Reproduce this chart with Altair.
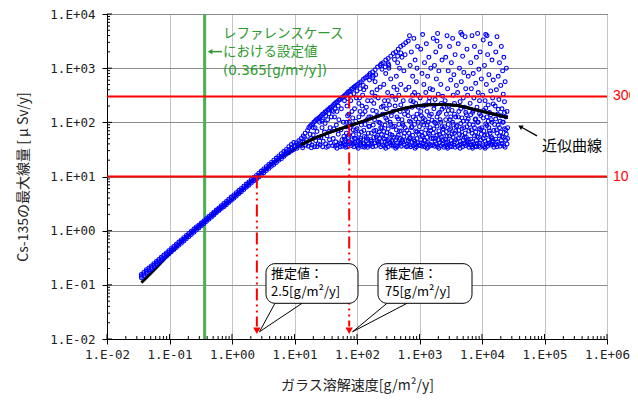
import altair as alt
import pandas as pd

# ---------------- data (log10 values) ----------------
band_rate_log = [-1.45, -1.41, -1.37, -1.33, -1.29, -1.25, -1.21, -1.17, -1.13, -1.09, -1.05, -1.01,
                 -0.97, -0.93, -0.89, -0.85, -0.81, -0.77, -0.73, -0.69, -0.65, -0.61, -0.57, -0.53,
                 -0.49, -0.45, -0.41, -0.37, -0.33, -0.29, -0.25, -0.21, -0.17, -0.13, -0.09, -0.05,
                 -0.01, 0.03, 0.07, 0.11, 0.15, 0.19, 0.23, 0.27, 0.31, 0.35, 0.39, 0.43, 0.47, 0.51,
                 0.55, 0.59, 0.63, 0.67, 0.71, 0.75, 0.79, 0.83, 0.87, 0.91, 0.95, 0.99]
band_dose_hi = [-0.81, -0.77, -0.72, -0.69, -0.65, -0.61, -0.57, -0.53, -0.49, -0.45, -0.41, -0.37,
                -0.33, -0.29, -0.25, -0.21, -0.17, -0.13, -0.09, -0.05, -0.01, 0.03, 0.07, 0.10,
                0.14, 0.18, 0.22, 0.26, 0.30, 0.34, 0.38, 0.42, 0.46, 0.50, 0.54, 0.58,
                0.62, 0.66, 0.70, 0.74, 0.78, 0.82, 0.86, 0.90, 0.94, 0.98, 1.02, 1.06, 1.10, 1.14,
                1.18, 1.22, 1.26, 1.30, 1.34, 1.38, 1.42, 1.46, 1.50, 1.55, 1.59, 1.63]
band_dose_mid = [-0.84, -0.80, -0.75, -0.72, -0.68, -0.64, -0.60, -0.56, -0.52, -0.48, -0.44, -0.40,
                 -0.36, -0.32, -0.28, -0.24, -0.20, -0.16, -0.12, -0.08, -0.04, 0.00, 0.04, 0.075,
                 0.115, 0.155, 0.195, 0.235, 0.275, 0.315, 0.355, 0.395, 0.435, 0.47, 0.51, 0.55,
                 0.59, 0.63, 0.67, 0.71, 0.75, 0.79, 0.83, 0.87, 0.91, 0.95, 0.985, 1.025, 1.065, 1.105,
                 1.145, 1.185, 1.225, 1.26, 1.30, 1.34, 1.375, 1.415, 1.455, 1.495, 1.53, 1.565]
band_dose_lo = [-0.87, -0.83, -0.78, -0.75, -0.71, -0.67, -0.63, -0.59, -0.55, -0.51, -0.47, -0.43,
                -0.39, -0.35, -0.31, -0.27, -0.23, -0.19, -0.15, -0.11, -0.07, -0.03, 0.01, 0.05,
                0.09, 0.13, 0.17, 0.21, 0.25, 0.29, 0.33, 0.37, 0.41, 0.44, 0.48, 0.52,
                0.56, 0.60, 0.64, 0.68, 0.72, 0.76, 0.80, 0.84, 0.88, 0.92, 0.95, 0.99, 1.03, 1.07,
                1.11, 1.15, 1.19, 1.22, 1.26, 1.30, 1.33, 1.37, 1.41, 1.44, 1.47, 1.50]

fan_points = [
    (1.01,1.55),(1.03,1.62),(1.05,1.58),(1.07,1.66),(1.09,1.60),(1.11,1.70),(1.12,1.57),(1.14,1.75),(1.15,1.63),(1.17,1.80),(1.18,1.58),(1.19,1.68),(1.04,1.52),(1.13,1.53),(1.16,1.72),(1.10,1.65),
    (1.21,1.85),(1.23,1.90),(1.25,1.93),(1.27,1.95),(1.29,1.97),(1.31,2.00),(1.33,2.02),(1.35,2.05),(1.37,2.06),(1.39,2.08),
    (1.22,1.56),(1.24,1.62),(1.26,1.70),(1.28,1.58),(1.30,1.77),(1.32,1.55),(1.34,1.66),(1.36,1.83),(1.38,1.60),(1.39,1.72),(1.25,1.78),(1.33,1.90),(1.27,1.53),(1.36,1.55),
    (1.41,2.10),(1.43,2.12),(1.45,2.15),(1.47,2.16),(1.49,2.19),(1.51,2.20),(1.53,2.23),(1.55,2.24),(1.57,2.27),(1.59,2.28),
    (1.41,1.58),(1.42,1.72),(1.44,1.90),(1.45,1.55),(1.46,1.65),(1.48,1.82),(1.49,1.98),(1.50,1.60),(1.52,1.75),(1.53,2.05),(1.54,1.56),(1.56,1.68),(1.57,1.90),(1.58,1.62),(1.59,2.10),(1.44,2.02),(1.51,1.54),(1.55,1.83),
    (1.61,2.30),(1.63,2.33),(1.65,2.35),(1.67,2.37),(1.69,2.38),(1.71,2.41),(1.73,2.42),(1.75,2.45),(1.77,2.46),(1.79,2.48),
    (1.61,1.57),(1.62,1.70),(1.63,1.88),(1.64,2.10),(1.65,1.56),(1.66,1.64),(1.67,1.95),(1.68,2.20),(1.69,1.58),(1.70,1.78),(1.71,2.05),(1.72,1.62),(1.73,1.55),(1.74,1.86),(1.75,2.25),(1.76,1.68),(1.77,1.56),(1.78,2.00),(1.79,1.74),(1.62,2.20),(1.68,1.52),(1.74,1.60),(1.78,1.60),
    (1.81,2.50),(1.83,2.52),(1.85,2.55),(1.87,2.57),(1.89,2.58),(1.91,2.61),(1.93,2.62),(1.95,2.65),(1.97,2.66),(1.99,2.68),
    (1.81,1.58),(1.82,1.66),(1.83,1.80),(1.84,2.00),(1.84,2.30),(1.85,1.55),(1.86,1.72),(1.87,2.15),(1.88,1.60),(1.89,1.90),(1.90,2.40),(1.91,1.57),(1.92,1.68),(1.93,2.08),(1.94,1.77),(1.95,1.55),(1.96,2.25),(1.97,1.62),(1.98,1.85),(1.99,2.45),(1.82,1.54),(1.88,2.00),(1.94,1.60),(1.98,1.70),(1.86,1.64),(1.92,1.95),
    (2.01,2.70),(2.04,2.73),(2.07,2.75),(2.10,2.79),(2.13,2.82),(2.16,2.84),(2.19,2.87),
    (2.01,1.56),(2.02,1.65),(2.03,1.78),(2.03,2.10),(2.04,2.45),(2.05,1.58),(2.06,1.70),(2.07,1.95),(2.08,2.30),(2.09,1.55),(2.10,1.62),(2.11,1.85),(2.11,2.60),(2.12,1.74),(2.13,2.20),(2.14,1.57),(2.15,1.66),(2.16,2.05),(2.17,2.40),(2.18,1.60),(2.18,1.80),(2.19,1.92),(2.05,2.20),(2.09,2.50),(2.14,2.65),(2.02,1.52),(2.12,1.54),(2.17,1.54),(2.06,1.62),(2.15,1.72),
    (2.21,2.90),(2.25,2.93),(2.29,2.97),(2.33,3.02),(2.37,3.05),(2.39,3.08),
    (2.21,1.57),(2.22,1.68),(2.22,2.10),(2.23,1.80),(2.24,2.55),(2.24,1.60),(2.25,1.55),(2.26,1.95),(2.27,1.72),(2.27,2.35),(2.28,1.62),(2.29,2.75),(2.30,1.85),(2.30,1.56),(2.31,2.20),(2.32,1.66),(2.33,1.76),(2.34,2.45),(2.35,1.59),(2.35,2.00),(2.36,1.70),(2.37,2.65),(2.38,1.55),(2.38,1.90),(2.39,2.28),(2.23,2.40),(2.26,2.85),(2.32,2.60),(2.36,1.82),(2.28,2.05),(2.34,1.63),
    (2.42,3.10),(2.46,3.15),(2.50,3.18),(2.54,3.22),(2.58,3.27),
    (2.41,1.58),(2.41,2.15),(2.42,1.70),(2.43,1.83),(2.43,2.70),(2.44,1.56),(2.44,2.40),(2.45,1.64),(2.45,1.95),(2.46,2.90),(2.47,1.75),(2.47,2.25),(2.48,1.60),(2.48,2.05),(2.49,2.55),(2.50,1.55),(2.50,1.88),(2.51,3.00),(2.52,1.68),(2.52,2.32),(2.53,1.78),(2.54,2.80),(2.55,1.58),(2.55,2.12),(2.56,1.66),(2.56,2.48),(2.57,1.92),(2.58,1.56),(2.59,2.65),(2.59,1.72),(2.46,1.52),(2.53,2.00),(2.57,1.62),(2.49,1.66),(2.51,3.05),
    (2.62,3.30),(2.66,3.35),(2.70,3.40),(2.74,3.43),(2.78,3.47),
    (2.61,1.57),(2.61,2.30),(2.62,1.68),(2.63,1.86),(2.63,2.85),(2.64,1.55),(2.64,2.10),(2.65,1.62),(2.65,3.10),(2.66,1.76),(2.67,2.50),(2.67,1.96),(2.68,1.59),(2.69,2.20),(2.69,1.70),(2.70,2.70),(2.71,1.56),(2.71,1.84),(2.72,3.20),(2.72,2.05),(2.73,1.64),(2.74,2.40),(2.75,1.74),(2.75,2.95),(2.76,1.58),(2.76,2.15),(2.77,1.90),(2.78,2.60),(2.79,1.66),(2.79,1.55),(2.64,2.60),(2.68,3.00),(2.73,1.98),(2.77,3.25),(2.62,1.52),(2.70,1.62),
    (2.81,1.56),(2.81,2.20),(2.82,1.66),(2.82,3.50),(2.83,1.80),(2.83,2.65),(2.84,1.58),(2.84,2.02),(2.85,3.05),(2.85,1.72),(2.86,2.40),(2.86,1.55),(2.87,1.90),(2.87,3.30),(2.88,1.63),(2.88,2.28),(2.89,2.85),(2.89,1.76),(2.90,1.57),(2.90,2.10),(2.91,3.55),(2.91,1.68),(2.92,2.55),(2.92,1.96),(2.93,1.60),(2.93,3.15),(2.94,1.84),(2.94,2.35),(2.95,1.55),(2.95,2.75),(2.96,1.70),(2.96,2.15),(2.97,3.40),(2.97,1.62),(2.98,2.00),(2.98,2.50),(2.99,1.78),(2.99,1.58),(2.84,3.60),(2.89,2.50),(2.93,1.52),(2.96,3.00),
    (3.01,1.57),(3.01,2.45),(3.02,1.68),(3.02,3.35),(3.03,1.82),(3.03,2.12),(3.04,1.56),(3.04,2.90),(3.05,1.74),(3.05,3.62),(3.06,1.60),(3.06,2.30),(3.07,1.95),(3.07,2.70),(3.08,1.55),(3.08,3.10),(3.09,1.66),(3.09,2.05),(3.10,1.86),(3.10,2.55),(3.11,1.58),(3.11,3.45),(3.12,1.72),(3.12,2.20),(3.13,1.63),(3.13,2.85),(3.14,2.00),(3.14,1.54),(3.15,2.38),(3.15,3.20),(3.16,1.78),(3.16,1.60),(3.17,2.62),(3.17,1.90),(3.18,1.57),(3.18,3.00),(3.19,2.15),(3.19,1.70),(3.05,2.00),(3.12,1.52),(3.16,2.45),(3.03,1.62),
    (3.21,1.58),(3.21,2.60),(3.22,1.70),(3.22,3.55),(3.23,1.88),(3.23,2.25),(3.24,1.56),(3.24,3.05),(3.25,1.65),(3.25,2.42),(3.26,1.98),(3.26,3.30),(3.27,1.60),(3.27,2.80),(3.28,1.76),(3.28,2.10),(3.29,1.55),(3.29,3.64),(3.30,1.68),(3.30,2.52),(3.31,1.84),(3.31,2.95),(3.32,1.62),(3.32,2.18),(3.33,2.05),(3.33,3.40),(3.34,1.57),(3.34,2.70),(3.35,1.73),(3.35,2.35),(3.36,1.92),(3.36,3.15),(3.37,1.60),(3.37,2.48),(3.38,1.66),(3.38,1.80),(3.39,2.28),(3.39,1.54),(3.24,2.00),(3.31,1.52),(3.36,1.68),(3.28,3.50),
    (3.41,1.57),(3.41,2.40),(3.42,1.69),(3.42,3.20),(3.43,1.83),(3.43,2.15),(3.44,1.55),(3.44,3.60),(3.45,1.64),(3.45,2.62),(3.46,1.96),(3.46,2.95),(3.47,1.59),(3.47,2.30),(3.48,1.75),(3.48,3.40),(3.49,1.56),(3.49,2.05),(3.50,1.88),(3.50,2.78),(3.51,1.66),(3.51,3.10),(3.52,1.61),(3.52,2.22),(3.53,2.00),(3.53,3.55),(3.54,1.72),(3.54,2.50),(3.55,1.58),(3.55,2.88),(3.56,1.80),(3.56,2.35),(3.57,1.54),(3.57,3.25),(3.58,1.68),(3.58,2.10),(3.59,1.92),(3.59,2.68),(3.45,1.52),(3.51,1.55),(3.56,1.64),(3.43,1.62),
    (3.61,1.56),(3.61,2.55),(3.62,1.70),(3.62,3.45),(3.63,1.85),(3.63,2.20),(3.64,1.58),(3.64,3.00),(3.65,1.65),(3.65,2.38),(3.66,1.98),(3.66,3.66),(3.67,1.60),(3.67,2.75),(3.68,1.76),(3.68,2.08),(3.69,1.55),(3.69,3.22),(3.70,1.67),(3.70,2.45),(3.71,1.90),(3.71,2.92),(3.72,1.62),(3.72,2.28),(3.73,1.80),(3.73,3.58),(3.74,1.57),(3.74,2.62),(3.75,1.72),(3.75,2.14),(3.76,2.02),(3.76,3.35),(3.77,1.59),(3.77,2.50),(3.78,1.68),(3.78,2.85),(3.79,1.84),(3.79,1.54),(3.65,1.52),(3.71,1.60),(3.76,1.64),(3.68,3.62),
    (3.81,1.58),(3.81,2.35),(3.82,1.69),(3.82,3.10),(3.83,1.86),(3.83,2.62),(3.84,1.55),(3.84,3.60),(3.85,1.64),(3.85,2.18),(3.86,1.95),(3.86,2.90),(3.87,1.60),(3.87,2.45),(3.88,1.75),(3.88,3.40),(3.89,1.56),(3.89,2.05),(3.90,1.82),(3.90,2.72),(3.91,1.66),(3.91,3.20),(3.92,1.61),(3.92,2.28),(3.93,2.00),(3.93,3.64),(3.94,1.72),(3.94,2.55),(3.95,1.57),(3.95,2.98),(3.96,1.88),(3.96,2.40),(3.97,1.54),(3.97,3.30),(3.98,1.67),(3.98,2.12),(3.99,1.78),(3.99,2.80),(3.85,1.52),(3.91,1.55),(3.96,1.62),(3.83,1.58),
    (4.01,1.57),(4.01,2.50),(4.02,1.70),(4.02,3.52),(4.03,1.84),(4.03,2.22),(4.04,1.55),(4.04,3.05),(4.05,1.65),(4.05,2.40),(4.06,1.97),(4.06,3.62),(4.07,1.60),(4.07,2.70),(4.08,1.77),(4.08,2.10),(4.09,1.56),(4.09,3.25),(4.10,1.68),(4.10,2.32),(4.11,1.90),(4.11,2.88),(4.12,1.62),(4.12,2.18),(4.13,1.80),(4.13,3.45),(4.14,1.58),(4.14,2.58),(4.15,1.73),(4.15,2.05),(4.16,2.00),(4.16,3.15),(4.17,1.59),(4.17,2.45),(4.18,1.66),(4.18,2.78),(4.19,1.85),(4.19,1.54),(4.05,1.52),(4.11,1.60),(4.16,1.64),(4.08,3.60),
    (4.21,1.58),(4.21,2.30),(4.22,1.69),(4.22,3.30),(4.23,1.86),(4.23,2.60),(4.24,1.55),(4.24,3.58),(4.25,1.64),(4.25,2.15),(4.26,1.95),(4.26,2.85),(4.27,1.60),(4.27,2.42),(4.28,1.75),(4.28,3.10),(4.29,1.56),(4.29,2.02),(4.30,1.82),(4.30,2.68),(4.31,1.66),(4.31,3.40),(4.32,1.61),(4.32,2.25),(4.33,2.00),(4.33,2.95),(4.34,1.72),(4.34,2.52),(4.35,1.57),(4.35,3.20),(4.36,1.88),(4.36,2.38),(4.37,1.54),(4.37,2.75),(4.38,1.67),(4.38,2.10),(4.39,1.78),(4.39,3.00),(4.40,1.60),(4.40,2.20),(4.41,1.70),(4.41,1.90),
]

fan_dense_points = [
    (1.80,1.69),(1.83,1.92),(1.85,2.12),(1.87,1.76),(1.90,1.63),(1.92,2.20),(1.94,1.86),(1.96,1.70),(1.98,2.02),(1.99,1.59),
    (2.00,1.88),(2.03,2.35),(2.05,1.67),(2.07,1.82),(2.09,2.15),(2.11,1.60),(2.13,1.96),(2.15,2.28),(2.17,1.69),(2.19,2.10),
    (2.20,1.93),(2.23,1.65),(2.25,2.22),(2.27,1.84),(2.29,2.48),(2.31,1.73),(2.33,2.12),(2.35,1.64),(2.37,1.99),(2.39,1.78),
    (2.40,1.90),(2.42,2.30),(2.44,1.69),(2.46,2.08),(2.48,1.81),(2.50,2.40),(2.52,1.62),(2.54,1.96),(2.56,1.76),(2.58,2.20),
    (2.60,1.93),(2.62,2.42),(2.64,1.72),(2.66,2.06),(2.68,1.84),(2.70,2.32),(2.72,1.67),(2.74,1.94),(2.76,1.80),(2.78,2.24),
    (2.80,1.85),(2.82,2.12),(2.84,1.70),(2.86,2.00),(2.88,1.92),(2.90,2.38),(2.92,1.65),(2.94,2.06),(2.96,1.82),(2.98,2.28),
    (3.00,1.92),(3.02,2.20),(3.04,1.76),(3.06,2.08),(3.08,1.67),(3.10,2.32),(3.12,1.95),(3.14,1.80),(3.16,2.12),(3.18,1.85),
    (3.20,2.04),(3.22,1.80),(3.24,2.32),(3.26,1.70),(3.28,1.93),(3.30,2.16),(3.32,1.77),(3.34,2.00),(3.36,2.24),(3.38,1.88),
    (3.40,1.92),(3.42,2.05),(3.44,1.74),(3.46,2.22),(3.48,1.86),(3.50,2.10),(3.52,1.78),(3.54,1.96),(3.56,2.15),(3.58,1.84),
    (3.60,1.94),(3.62,2.10),(3.64,1.78),(3.66,2.25),(3.68,1.88),(3.70,2.02),(3.72,1.72),(3.74,2.18),(3.76,1.92),(3.78,2.06),
    (3.80,1.96),(3.82,2.14),(3.84,1.80),(3.86,2.22),(3.88,1.90),(3.90,2.06),(3.92,1.74),(3.94,2.00),(3.96,2.16),(3.98,1.86),
    (4.00,1.90),(4.02,2.08),(4.04,1.76),(4.06,2.26),(4.08,1.94),(4.10,2.02),(4.12,1.84),(4.14,2.14),(4.16,1.70),(4.18,2.34),
    (4.20,1.96),(4.22,2.06),(4.24,1.80),(4.26,2.24),(4.28,1.90),(4.30,2.12),(4.32,1.74),(4.34,2.00),(4.36,2.18),(4.38,1.86),
]

fan_edge_points = [
    (1.30,1.90),(1.40,2.00),(1.50,2.12),(1.60,2.22),(1.70,2.30),(1.80,2.40),(1.90,2.50),(2.00,2.58),
    (2.10,2.68),(2.20,2.78),(2.30,2.88),(2.40,2.98),(2.50,3.08),(2.60,3.16),(2.70,3.28),(1.45,2.05),
    (1.65,2.25),(1.85,2.44),(2.05,2.62),(2.25,2.82),(2.45,3.02),(2.65,3.22),(1.55,2.16),(1.95,2.53),
]

curve_rate_log = [-1.45, -1.2, -0.9, -0.5, 0.0, 0.4, 0.8, 1.1, 1.37, 1.6, 1.84, 2.2, 2.63, 3.0, 3.32, 3.6, 3.9, 4.2, 4.41]
curve_dose_log = [-0.96, -0.67, -0.31, 0.11, 0.58, 1.0, 1.36, 1.58, 1.73, 1.83, 1.92, 2.06, 2.22, 2.31, 2.33, 2.31, 2.23, 2.15, 2.09]

x_decades = [0.01, 0.1, 1, 10, 100, 1000, 10000, 100000, 1000000]
y_decades = [0.01, 0.1, 1, 10, 100, 1000, 10000]

reference_rate = 0.365
limit_doses = [300, 10]
limit_labels = ["300", "10"]
estimate_rates = [2.5, 75]
estimate_doses = [10, 300]
estimate_texts = ["2.5[g/m²/y]", "75[g/m²/y]"]
ref_lines = ["レファレンスケース", "における設定値"]
ref_value_line = "(0.365[g/m²/y])"
fit_label = "近似曲線"

# ---------------- frames ----------------
scatter_df = pd.DataFrame(
    [(10 ** u, 10 ** v) for u, v in zip(band_rate_log, band_dose_hi)]
    + [(10 ** u, 10 ** v) for u, v in zip(band_rate_log, band_dose_mid)]
    + [(10 ** u, 10 ** v) for u, v in zip(band_rate_log, band_dose_lo)]
    + [(10 ** u, 10 ** v) for u, v in fan_points]
    + [(10 ** u, 10 ** v) for u, v in fan_dense_points]
    + [(10 ** u, 10 ** v) for u, v in fan_edge_points],
    columns=["x", "y"],
)
curve_df = pd.DataFrame({"x": [10 ** u for u in curve_rate_log], "y": [10 ** v for v in curve_dose_log]})
curve_top_df = curve_df[curve_df["x"] >= 10 ** 1.1]

xs = alt.Scale(type="log", domain=[0.01, 1000000], nice=False)
ys = alt.Scale(type="log", domain=[0.01, 10000], nice=False)

JP = "Noto Sans CJK JP"
MONO = "DejaVu Sans Mono"
label_expr = ("'1.E' + (datum.value < 1 ? '-' : '+') + "
              "(abs(round(log(datum.value)/LN10)) < 10 ? '0' : '') + abs(round(log(datum.value)/LN10))")

x_axis = alt.Axis(values=x_decades, labelExpr=label_expr, grid=True, gridColor="#c4c4c4", gridWidth=1,
                  tickSize=5, tickColor="black", domainColor="black", labelFont=MONO, labelFontSize=12.5,
                  labelColor="#222222", labelPadding=4, labelFlush=False, labelOverlap=False, labelBound=False,
                  title="ガラス溶解速度[g/m²/y]", titleFont=JP, titleFontSize=14, titleFontWeight="normal",
                  titleColor="#222222", titlePadding=18)
y_axis = alt.Axis(values=y_decades, labelExpr=label_expr, grid=True, gridColor="#8c8c8c", gridWidth=1,
                  tickSize=5, tickColor="black", domainColor="black", labelFont=MONO, labelFontSize=12.5,
                  labelColor="#222222", labelPadding=7, labelFlush=False, labelOverlap=False, labelBound=False,
                  title="Cs-135の最大線量 [ μ Sv/y]", titleFont=JP, titleFontSize=14, titleFontWeight="normal",
                  titleColor="#222222", titlePadding=19)


def X(f="x"):
    return alt.X(f"{f}:Q", scale=xs, axis=x_axis)


def Y(f="y"):
    return alt.Y(f"{f}:Q", scale=ys, axis=y_axis)


PLOT_H = 325

# inner ticks
x_minor = [m * d for d in x_decades[:-1] for m in range(2, 10)]
y_minor = [m * d for d in y_decades[:-1] for m in range(2, 10)]
tick_layers = [
    alt.Chart(pd.DataFrame({"x": x_decades})).mark_rule(color="black").encode(x=X(), y=alt.value(PLOT_H), y2=alt.value(PLOT_H - 5)),
    alt.Chart(pd.DataFrame({"x": x_minor})).mark_rule(color="black").encode(x=X(), y=alt.value(PLOT_H), y2=alt.value(PLOT_H - 3)),
    alt.Chart(pd.DataFrame({"y": y_decades})).mark_rule(color="black").encode(y=Y(), x=alt.value(0), x2=alt.value(5)),
    alt.Chart(pd.DataFrame({"y": y_minor})).mark_rule(color="black").encode(y=Y(), x=alt.value(0), x2=alt.value(3)),
]

green_line = alt.Chart(pd.DataFrame({"x": [reference_rate]})).mark_rule(color="#4caf50", strokeWidth=3).encode(x=X())

scatter = alt.Chart(scatter_df).mark_point(shape="circle", filled=False, color="#0000ff", size=15,
                                           strokeWidth=1.1, opacity=1).encode(x=X(), y=Y())

curve_under = alt.Chart(curve_df).mark_line(color="black", strokeWidth=3, interpolate="monotone").encode(x=X(), y=Y())
curve_over = alt.Chart(curve_top_df).mark_line(color="black", strokeWidth=3, interpolate="monotone").encode(x=X(), y=Y())

red_h = alt.Chart(pd.DataFrame({"y": limit_doses})).mark_rule(color="#ff0000", strokeWidth=2).encode(y=Y())
red_lbl = alt.Chart(pd.DataFrame({"x": [1.25e6, 1.25e6], "y": limit_doses, "t": limit_labels})).mark_text(
    align="left", baseline="middle", font="Liberation Sans", fontSize=14, color="#ff0000").encode(x=X(), y=Y(), text="t:N")

red_v = alt.Chart(pd.DataFrame({"x": estimate_rates, "y": estimate_doses, "y2": [0.017, 0.017]})).mark_rule(
    color="#ff0000", strokeWidth=2, strokeDash=[12, 4, 2, 4, 2, 4]).encode(x=X(), y=Y(), y2="y2:Q")
red_arrow = alt.Chart(pd.DataFrame({"x": estimate_rates, "y": [0.0142, 0.0142]})).mark_point(
    shape="triangle-down", filled=True, color="#ff0000", size=55, opacity=1).encode(x=X(), y=Y())

# call-out boxes
box_df = pd.DataFrame({"x": [3.5, 217], "x2": [103.7, 6920], "y": [0.246, 0.246], "y2": [0.0456, 0.0456]})
boxes = alt.Chart(box_df).mark_rect(fill="white", stroke="black", strokeWidth=1, cornerRadius=9).encode(
    x=X(), x2="x2:Q", y=Y(), y2="y2:Q")
tail_df = pd.DataFrame({
    "x": [4.87, 2.75, 13.2, 2.75, 302, 85, 631, 85],
    "y": [0.0456, 0.0136, 0.0456, 0.0136, 0.0456, 0.0136, 0.0456, 0.0136],
    "g": ["a", "a", "b", "b", "c", "c", "d", "d"],
    "o": [0, 1, 0, 1, 0, 1, 0, 1],
})
tails = alt.Chart(tail_df).mark_line(color="black", strokeWidth=1).encode(x=X(), y=Y(), detail="g:N", order="o:Q")
box_text = alt.Chart(pd.DataFrame({
    "x": [4.21, 4.21, 281, 281],
    "y": [0.161, 0.0724, 0.161, 0.0724],
    "t": ["推定値：", estimate_texts[0], "推定値：", estimate_texts[1]],
})).mark_text(align="left", baseline="middle", font=JP, fontSize=13, color="black").encode(x=X(), y=Y(), text="t:N")

# reference case annotation
ref_text = alt.Chart(pd.DataFrame({"x": [0.718] * 2, "y": [4300, 1960], "t": ref_lines})).mark_text(
    align="left", baseline="middle", font=JP, fontSize=13.5, color="#2e9a2e").encode(x=X(), y=Y(), text="t:N")
ref_value = alt.Chart(pd.DataFrame({"x": [0.718], "y": [880], "t": [ref_value_line]})).mark_text(
    align="left", baseline="middle", font="DejaVu Sans", fontSize=13.5, color="#2e9a2e").encode(x=X(), y=Y(), text="t:N")
ref_arrow_line = alt.Chart(pd.DataFrame({"x": [0.69, 0.44], "y": [2020, 2020]})).mark_line(
    color="#2e9a2e", strokeWidth=1.5).encode(x=X(), y=Y())
ref_arrow_head = alt.Chart(pd.DataFrame({"x": [0.445], "y": [2020]})).mark_point(
    shape="triangle-left", filled=True, color="#2e9a2e", size=30, opacity=1).encode(x=X(), y=Y())

# fitted curve annotation
fit_line = alt.Chart(pd.DataFrame({"x": [75900, 43000], "y": [56.2, 81.0]})).mark_line(
    color="black", strokeWidth=1.2).encode(x=X(), y=Y())
fit_head = alt.Chart(pd.DataFrame({"x": [41000], "y": [83.5]})).mark_point(
    shape="triangle-up", angle=300, filled=True, color="black", size=28, opacity=1).encode(x=X(), y=Y())
fit_text = alt.Chart(pd.DataFrame({"x": [91000], "y": [36.5], "t": [fit_label]})).mark_text(
    align="left", baseline="middle", font=JP, fontSize=15, color="black").encode(x=X(), y=Y(), text="t:N")

chart = alt.layer(
    *tick_layers, green_line, curve_under, scatter, curve_over, red_h, red_v, red_arrow,
    boxes, tails, box_text, ref_text, ref_value, ref_arrow_line, ref_arrow_head,
    fit_line, fit_head, fit_text, red_lbl,
).properties(
    width=500, height=PLOT_H,
    autosize=alt.AutoSizeParams(type="none"),
    padding={"left": 99, "top": 6, "right": 23, "bottom": 64},
).configure_view(stroke="black", strokeWidth=1)

chart.save("out.html", embed_options={"renderer": "svg", "actions": False})
